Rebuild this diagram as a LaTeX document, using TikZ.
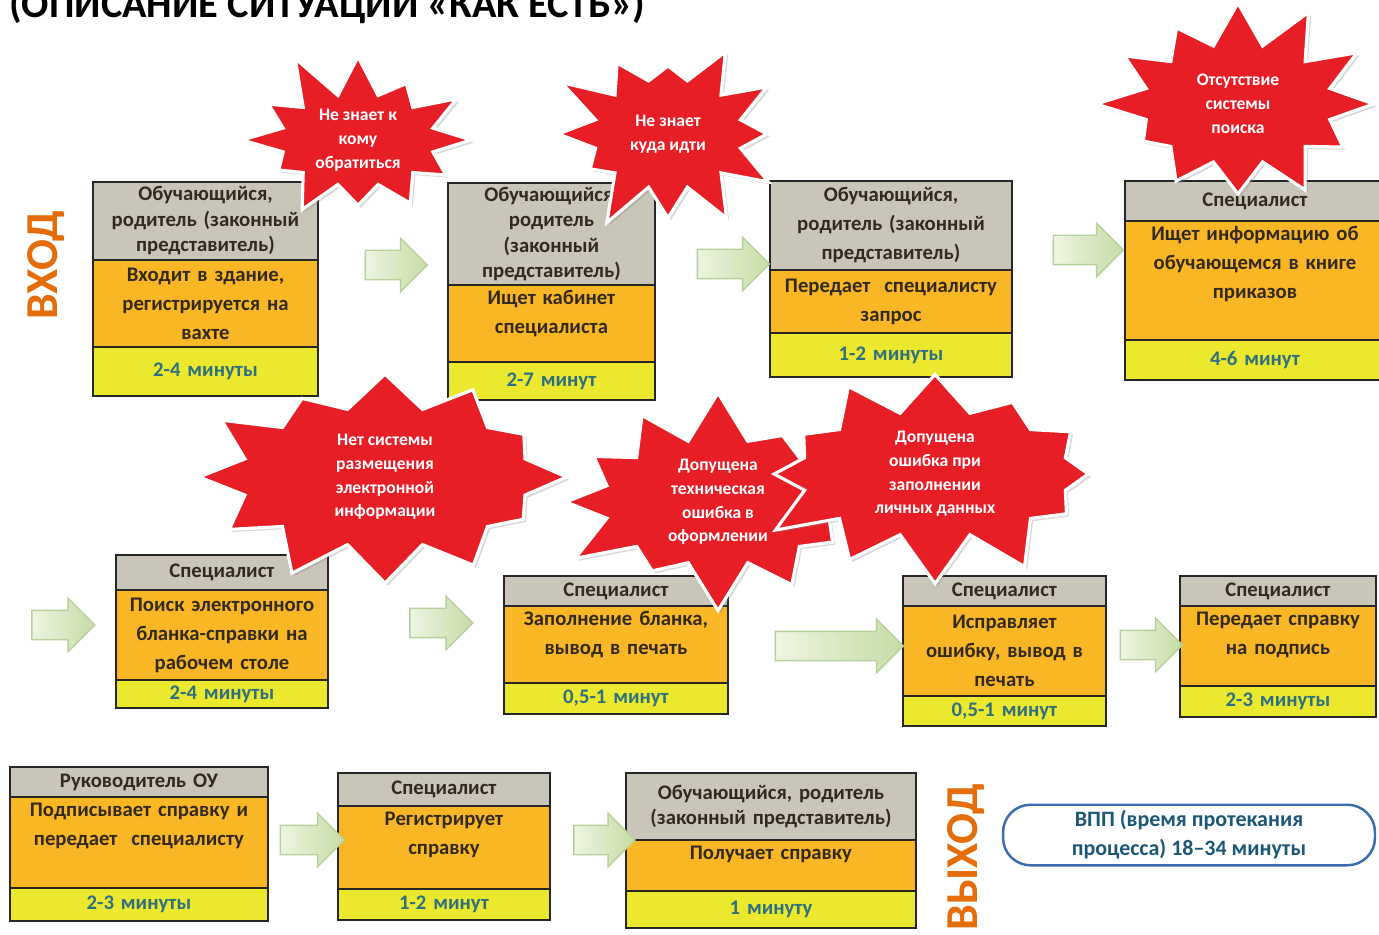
\documentclass[tikz,border=0pt]{standalone}
\usepackage{fontspec}
\setmainfont{Carlito}
\usepackage{xcolor}
\usetikzlibrary{positioning}
\usetikzlibrary{shapes.symbols, shapes.arrows, shadows}
\definecolor{rolegray}{RGB}{201,197,184}
\definecolor{actorange}{RGB}{249,183,38}
\definecolor{timeyellow}{RGB}{236,232,46}
\definecolor{timetext}{RGB}{46,112,128}
\definecolor{inkbrown}{RGB}{50,42,30}
\definecolor{burstred}{RGB}{232,30,38}
\definecolor{gateorange}{RGB}{228,108,10}
\definecolor{pillblue}{RGB}{58,108,178}
\definecolor{pilltext}{RGB}{28,88,118}
\definecolor{arrowlight}{RGB}{238,245,226}
\definecolor{arrowdark}{RGB}{198,220,164}
\definecolor{arrowedge}{RGB}{184,208,156}

\tikzset{
  band/.style={draw=black!85, line width=0.9pt, outer sep=0pt, inner xsep=0pt, inner ysep=2pt,
    align=center, anchor=north west, text=inkbrown, font=\bfseries\fontsize{11.8}{14.5}\selectfont},
  role/.style={band, fill=rolegray},
  act/.style={band, fill=actorange, font=\bfseries\fontsize{11.8}{16.5}\selectfont},
  dur/.style={band, fill=timeyellow, text=timetext},
  flow/.style={single arrow, single arrow head extend=0.24cm, inner xsep=0pt, inner ysep=0.28cm,
    left color=arrowlight, right color=arrowdark, draw=arrowedge, line width=0.8pt},
  burst/.style={starburst, starburst points=12, starburst point height=1cm, fill=burstred,
    draw=white, line width=1.8pt, text=white, align=center, inner sep=1pt,
    font=\bfseries\fontsize{10}{13.5}\selectfont,
    drop shadow={opacity=0.3, shadow xshift=1.5pt, shadow yshift=-1.5pt}},
  gate/.style={rotate=90, text=gateorange, font=\bfseries\fontsize{26}{26}\selectfont},
}

\begin{document}
\begin{tikzpicture}[x=0.02cm, y=-0.02cm]
\fill[white] (0,0) rectangle (1379,935);
\useasboundingbox (0,0) rectangle (1379,935);

\node[anchor=base west, inner sep=0pt, font=\bfseries\fontsize{23}{27}\selectfont] (title) at (9,18)
  {(ОПИСАНИЕ СИТУАЦИИ «КАК ЕСТЬ»)};

% first row
\node[role, text width=4.5cm, minimum height=1.56cm] (b1r) at (93,182) {Обучающийся,\\родитель (законный\\представитель)};
\node[act, text width=4.5cm, minimum height=1.74cm, below=0pt of b1r] (b1a) {Входит в здание,\\регистрируется на\\вахте};
\node[dur, text width=4.5cm, minimum height=0.98cm, below=0pt of b1a] (b1t) {2-4 минуты};

\node[role, text width=4.14cm, minimum height=2.04cm] (b2r) at (448,183) {Обучающийся,\\родитель\\(законный\\представитель)};
\node[act, text width=4.14cm, minimum height=1.54cm, text depth=1.04cm, below=0pt of b2r] (b2a) {Ищет кабинет\\специалиста};
\node[dur, text width=4.14cm, minimum height=0.76cm, below=0pt of b2a] (b2t) {2-7 минут};

\node[role, text width=4.84cm, minimum height=1.78cm, font=\bfseries\fontsize{11.8}{16.5}\selectfont] (b3r) at (770,181) {Обучающийся,\\родитель (законный\\представитель)};
\node[act, text width=4.84cm, minimum height=1.26cm, below=0pt of b3r] (b3a) {Передает\ \ специалисту\\запрос};
\node[dur, text width=4.84cm, minimum height=0.88cm, below=0pt of b3a] (b3t) {1-2 минуты};

\node[role, text width=5.2cm, minimum height=0.8cm] (b4r) at (1125,181) {Специалист};
\node[act, text width=5.2cm, minimum height=2.38cm, text depth=1.88cm, below=0pt of b4r] (b4a) {Ищет информацию об\\обучающемся в книге\\приказов};
\node[dur, text width=5.2cm, minimum height=0.8cm, below=0pt of b4a] (b4t) {4-6 минут};

% second row
\node[role, text width=4.24cm, minimum height=0.7cm] (b5r) at (116,555) {Специалист};
\node[act, text width=4.24cm, minimum height=1.8cm, below=0pt of b5r] (b5a) {Поиск электронного\\бланка-справки на\\рабочем столе};
\node[dur, text width=4.24cm, minimum height=0.56cm, below=0pt of b5a] (b5t) {2-4 минуты};

\node[role, text width=4.48cm, minimum height=0.6cm] (b6r) at (504,576) {Специалист};
\node[act, text width=4.48cm, minimum height=1.54cm, text depth=1.04cm, below=0pt of b6r] (b6a) {Заполнение бланка,\\вывод в печать};
\node[dur, text width=4.48cm, minimum height=0.62cm, below=0pt of b6a] (b6t) {0,5-1 минут};

\node[role, text width=4.06cm, minimum height=0.6cm] (b7r) at (903,576) {Специалист};
\node[act, text width=4.06cm, minimum height=1.8cm, below=0pt of b7r] (b7a) {Исправляет\\ошибку, вывод в\\печать};
\node[dur, text width=4.06cm, minimum height=0.6cm, below=0pt of b7a] (b7t) {0,5-1 минут};

\node[role, text width=3.92cm, minimum height=0.6cm] (b8r) at (1180,576) {Специалист};
\node[act, text width=3.92cm, minimum height=1.6cm, text depth=1.1cm, below=0pt of b8r] (b8a) {Передает справку\\на подпись};
\node[dur, text width=3.92cm, minimum height=0.62cm, below=0pt of b8a] (b8t) {2-3 минуты};

% third row
\node[role, text width=5.16cm, minimum height=0.6cm] (b9r) at (10,767) {Руководитель ОУ};
\node[act, text width=5.16cm, minimum height=1.82cm, text depth=1.32cm, below=0pt of b9r] (b9a) {Подписывает справку и\\передает\ \ специалисту};
\node[dur, text width=5.16cm, minimum height=0.66cm, below=0pt of b9a] (b9t) {2-3 минуты};

\node[role, text width=4.24cm, minimum height=0.66cm] (b10r) at (338,773) {Специалист};
\node[act, text width=4.24cm, minimum height=1.66cm, text depth=1.16cm, below=0pt of b10r] (b10a) {Регистрирует\\справку};
\node[dur, text width=4.24cm, minimum height=0.62cm, below=0pt of b10a] (b10t) {1-2 минут};

\node[role, text width=5.8cm, minimum height=1.34cm] (b11r) at (626,773) {Обучающийся, родитель\\(законный представитель)};
\node[act, text width=5.8cm, minimum height=1.02cm, text depth=0.52cm, below=0pt of b11r] (b11a) {Получает справку};
\node[dur, text width=5.8cm, minimum height=0.74cm, below=0pt of b11a] (b11t) {1 минуту};

% block arrows between the stages
\node[flow, minimum height=1.24cm] (f1) at (389,265) {};
\node[flow, minimum height=1.44cm] (f2) at (726,264) {};
\node[flow, minimum height=1.4cm] (f3) at (1081,250) {};
\node[flow, minimum height=1.26cm] (f4) at (56,625) {};
\node[flow, minimum height=1.26cm] (f5) at (434,623) {};
\node[flow, minimum height=2.56cm] (f6) at (832,646) {};
\node[flow, minimum height=1.24cm] (f7) at (1144,645) {};
\node[flow, minimum height=1.28cm] (f8) at (305,840) {};
\node[flow, minimum height=1.22cm] (f9) at (597,840) {};

% problems
\node[burst, minimum width=5.1cm, minimum height=3.8cm, random starburst=11] (s1) at (358,140) {Не знает к\\кому\\обратиться};
\node[burst, minimum width=5cm, minimum height=4.2cm, random starburst=23] (s2) at (668,134) {Не знает\\куда идти};
\node[burst, minimum width=5.8cm, minimum height=4.4cm, random starburst=37] (s3) at (1238,104) {Отсутствие\\системы\\поиска};
\node[burst, minimum width=7.8cm, minimum height=4.8cm, random starburst=41] (s4) at (385,477) {Нет системы\\размещения\\электронной\\информации};
\node[burst, minimum width=6.6cm, minimum height=4.4cm, random starburst=53] (s5) at (718,502) {Допущена\\техническая\\ошибка в\\оформлении};
\node[burst, minimum width=7.4cm, minimum height=3.6cm, random starburst=67] (s6) at (935,474) {Допущена\\ошибка при\\заполнении\\личных данных};

\node[gate] (vhod) at (46,265) {ВХОД};
\node[gate] (vyhod) at (966,857) {ВЫХОД};

\node[draw=pillblue, line width=1.4pt, rounded corners=0.55cm, minimum width=7.44cm, minimum height=1.12cm,
  align=center, text=pilltext, font=\bfseries\fontsize{12.5}{16.5}\selectfont] (vpp) at (1189,835)
  {ВПП (время протекания\\процесса) 18–34 минуты};
\end{tikzpicture}
\end{document}
